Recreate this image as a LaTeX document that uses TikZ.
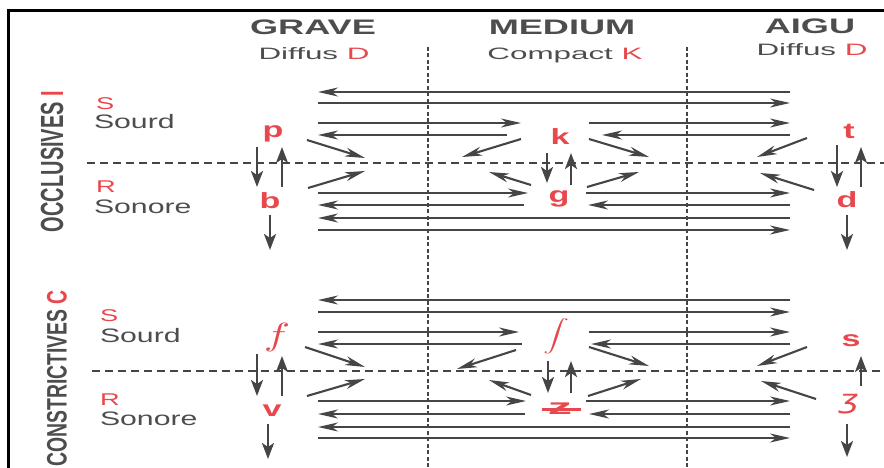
\documentclass[tikz,border=0pt]{standalone}
\usepackage{fontspec}
\setmainfont{Liberation Sans}
\newfontfamily\dejavu{DejaVu Sans}
\usetikzlibrary{arrows.meta}
\definecolor{c454545}{RGB}{69,69,69}
\definecolor{c4d4d4d}{RGB}{77,77,77}
\definecolor{ce8474b}{RGB}{232,71,75}
\newcommand{\stretchx}[2][1.75]{\scalebox{#1}[1]{#2}}

\begin{document}
\begin{tikzpicture}[y=1pt, x=1pt, yscale=-1, inner sep=0pt, outer sep=0pt,
  head/.style={text=c4d4d4d, anchor=base, font=\fontsize{21}{22}\selectfont\bfseries},
  sub/.style={text=c4d4d4d, anchor=base, font=\fontsize{16.5}{18}\selectfont},
  side/.style={text=c4d4d4d, anchor=base west, font=\fontsize{19.5}{20}\selectfont},
  tag/.style={text=ce8474b, anchor=base west, font=\fontsize{17}{18}\selectfont},
  phon/.style={text=ce8474b, font=\fontsize{22}{24}\selectfont\bfseries},
  harr/.style={draw=c454545, line width=2.1pt, -{Stealth[length=20pt,width=9pt,inset=6pt]}},
  varr/.style={draw=c454545, line width=2.4pt, -{Stealth[length=16pt,width=12pt,inset=4pt]}}]
\useasboundingbox (0,0) rectangle (884,468);
  \path[draw=black,line width=3pt] (8,468) -- (8,11) -- (884,11);
  \path[draw=c454545,line width=2.6pt,dash pattern=on 4pt off 2.5pt] (428,47) -- (428,468);
  \path[draw=c454545,line width=2.6pt,dash pattern=on 4pt off 2.5pt] (687,47) -- (687,468);
  \path[draw=c454545,line width=1.7pt,dash pattern=on 8pt off 5pt] (87,163) -- (884,163);
  \path[draw=c454545,line width=1.7pt,dash pattern=on 8pt off 5pt] (92,371) -- (884,371);
  % column heads
  \path (313,35) node[head] (grave) {\stretchx[1.72]{GRAVE}};
  \path (562,35) node[head] (medium) {\stretchx[1.72]{MEDIUM}};
  \path (810,34) node[head] (aigu) {\stretchx[1.72]{AIGU}};
  \path (314,60) node[sub] (diffus1) {\stretchx[1.9]{Diffus \textcolor{ce8474b}{D}}};
  \path (565,60) node[sub] (compact) {\stretchx[1.9]{Compact \textcolor{ce8474b}{K}}};
  \path (812,56) node[sub] (diffus2) {\stretchx[1.9]{Diffus \textcolor{ce8474b}{D}}};
  % row heads
  \path (52,161.5) node[text=c4d4d4d] (occlusives)
    {\scalebox{1.6}[1]{\rotatebox{90}{\fontsize{20}{20}\selectfont\bfseries OCCLUSIVES \textcolor{ce8474b}{I}}}};
  \path (57,378.5) node[text=c4d4d4d] (constrictives)
    {\scalebox{1.45}[1]{\rotatebox{90}{\fontsize{19.4}{20}\selectfont\bfseries CONSTRICTIVES \textcolor{ce8474b}{C}}}};
  \path (96,110) node[tag] (s1) {\stretchx[1.6]{S}};
  \path (94,129) node[side] (sourd1) {\stretchx[1.55]{Sourd}};
  \path (96,193) node[tag] (r1) {\stretchx[1.6]{R}};
  \path (94,213) node[side] (sonore1) {\stretchx[1.55]{Sonore}};
  \path (100,321) node[tag] (s2) {\stretchx[1.6]{S}};
  \path (100,342) node[side] (sourd2) {\stretchx[1.55]{Sourd}};
  \path (100,405) node[tag] (r2) {\stretchx[1.6]{R}};
  \path (100,425) node[side] (sonore2) {\stretchx[1.55]{Sonore}};
  % occlusives
  \path (273,134) node[phon] (p) {\stretchx[1.55]{p}};
  \path (270,201) node[phon] (b) {\stretchx[1.55]{b}};
  \path (560,137) node[phon] (k) {\stretchx[1.55]{k}};
  \path (559,199) node[phon] (g) {\stretchx[1.55]{g}};
  \path (849,131) node[phon] (t) {\stretchx[1.55]{t}};
  \path (847,200) node[phon] (d) {\stretchx[1.55]{d}};
  \path[harr] (790,92) -- (318,92);
  \path[harr] (318,103) -- (790,103);
  \path[harr] (318,123) -- (521,123);
  \path[harr] (589,123) -- (790,123);
  \path[harr] (507,135) -- (318,135);
  \path[harr] (790,135) -- (602,135);
  \path[harr] (318,193) -- (528,193);
  \path[harr] (586,193) -- (790,193);
  \path[harr] (524,205) -- (318,205);
  \path[harr] (790,205) -- (588,205);
  \path[harr] (790,218) -- (318,218);
  \path[harr] (318,230) -- (790,230);
  \path[harr] (307,140) -- (365,158);
  \path[harr] (308,188) -- (365,171);
  \path[harr] (521,139) -- (462,157);
  \path[harr] (589,139) -- (649,157);
  \path[harr] (531,185) -- (489,172);
  \path[harr] (587,187) -- (639,172);
  \path[harr] (807,138) -- (757,157);
  \path[harr] (814,190) -- (760,173);
  \path[varr] (257,147) -- (257,187);
  \path[varr] (282,187) -- (282,147);
  \path[varr] (270,215) -- (270,250);
  \path[varr] (547,153) -- (547,183);
  \path[varr] (571,185) -- (571,153);
  \path[varr] (837,145) -- (837,187);
  \path[varr] (861,187) -- (861,147);
  \path[varr] (847,215) -- (847,250);
  % constrictives
  \path (277,337) node[text=ce8474b] (f) {\scalebox{4.4}[3.2]{$f$}};
  \path (556,336) node[text=ce8474b] (sh) {\scalebox{2.6}[1.6]{$\displaystyle\int$}};
  \path (851,341) node[phon] (s) {\stretchx[1.55]{s}};
  \path (272,411) node[phon] (v) {\stretchx[1.55]{v}};
  \path (560,409) node[phon] (zh) {\stretchx[2.2]{z}};
  \path[draw=ce8474b,line width=3pt] (542,409) -- (581,409);
  \path (849,404) node[text=ce8474b] (z)
    {\dejavu\fontsize{26}{26}\selectfont\stretchx[1.3]{\itshape ʒ}};
  \path[harr] (790,300) -- (318,300);
  \path[harr] (318,312) -- (790,312);
  \path[harr] (318,332) -- (519,332);
  \path[harr] (589,332) -- (790,332);
  \path[harr] (522,344) -- (318,344);
  \path[harr] (790,344) -- (591,344);
  \path[harr] (318,401) -- (526,401);
  \path[harr] (586,401) -- (790,401);
  \path[harr] (525,414) -- (318,414);
  \path[harr] (790,414) -- (589,414);
  \path[harr] (790,427) -- (318,427);
  \path[harr] (318,438) -- (790,438);
  \path[harr] (305,347) -- (365,367);
  \path[harr] (307,396) -- (365,379);
  \path[harr] (516,350) -- (457,369);
  \path[harr] (589,347) -- (649,366);
  \path[harr] (531,395) -- (489,380);
  \path[harr] (588,396) -- (641,379);
  \path[harr] (807,347) -- (757,366);
  \path[harr] (816,399) -- (761,381);
  \path[varr] (257,354) -- (257,396);
  \path[varr] (282,396) -- (282,356);
  \path[varr] (268,424) -- (268,459);
  \path[varr] (548,361) -- (548,393);
  \path[varr] (571,393) -- (571,361);
  \path[varr] (861,386) -- (861,356);
  \path[varr] (847,424) -- (847,457);
\end{tikzpicture}
\end{document}
